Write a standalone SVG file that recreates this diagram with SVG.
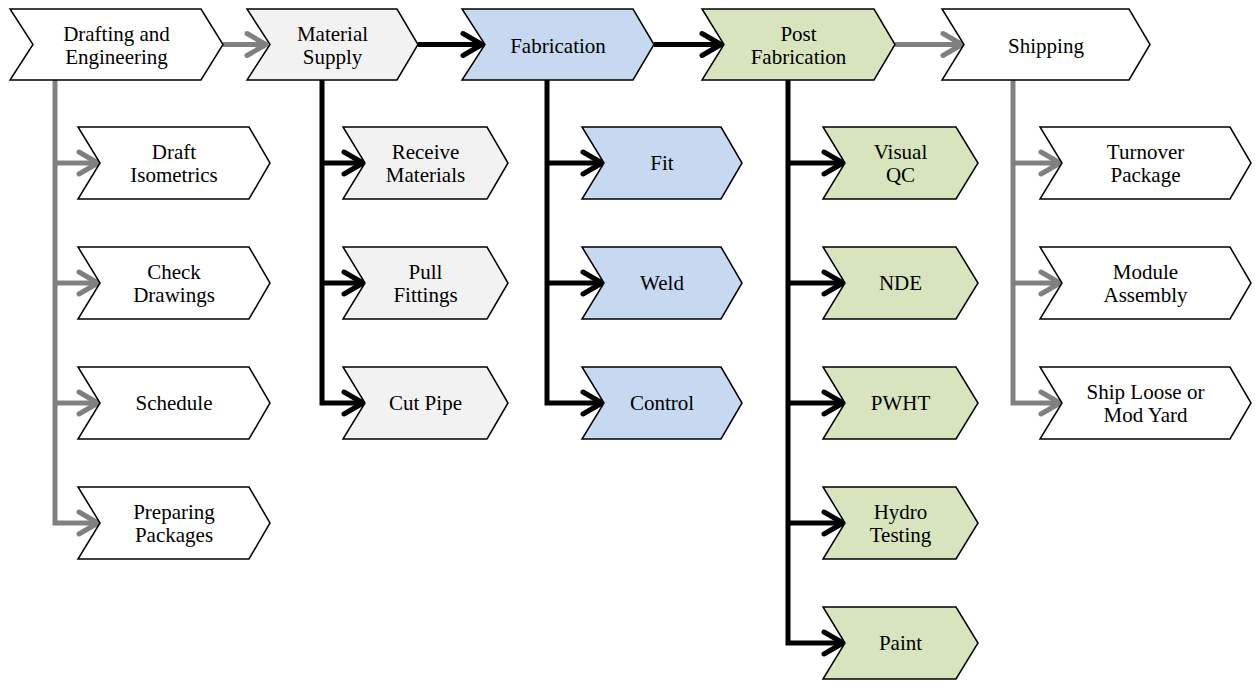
<svg xmlns="http://www.w3.org/2000/svg" width="1255" height="681" viewBox="0 0 1255 681">
<style>
.box{stroke:#000;stroke-width:1.5;stroke-linejoin:miter}
.w{fill:#fff}.g{fill:#f2f2f2}.b{fill:#c6d9f1}.gr{fill:#d7e4bd}
.t{font-size:21px;fill:#000;text-anchor:middle}
.cg{fill:none;stroke:#808080;stroke-width:5;stroke-linejoin:miter;marker-end:url(#ag)}
.ck{fill:none;stroke:#000;stroke-width:5;stroke-linejoin:miter;marker-end:url(#ak)}
</style>
<defs>
<marker id="ag" markerUnits="userSpaceOnUse" markerWidth="32" markerHeight="32" refX="24" refY="16" orient="auto" overflow="visible">
<path d="M5,5 L24,16 L5,27" fill="none" stroke="#808080" stroke-width="5" stroke-linecap="round" stroke-linejoin="round"/>
</marker>
<marker id="ak" markerUnits="userSpaceOnUse" markerWidth="32" markerHeight="32" refX="24" refY="16" orient="auto" overflow="visible">
<path d="M5,5 L24,16 L5,27" fill="none" stroke="#000" stroke-width="5" stroke-linecap="round" stroke-linejoin="round"/>
</marker>
</defs>
<g id="connectors">
<path class="cg" d="M223,44.5 H266"/>
<path class="ck" d="M418,44.5 H482"/>
<path class="ck" d="M654,44.5 H721"/>
<path class="cg" d="M895,44.5 H962"/>
<path class="cg" d="M55,80 V523 H98"/>
<path class="cg" d="M55,163 H98"/>
<path class="cg" d="M55,283 H98"/>
<path class="cg" d="M55,403 H98"/>
<path class="ck" d="M322,80 V403 H363"/>
<path class="ck" d="M322,163 H363"/>
<path class="ck" d="M322,283 H363"/>
<path class="ck" d="M547,80 V403 H602"/>
<path class="ck" d="M547,163 H602"/>
<path class="ck" d="M547,283 H602"/>
<path class="ck" d="M788,80 V643 H843"/>
<path class="ck" d="M788,163 H843"/>
<path class="ck" d="M788,283 H843"/>
<path class="ck" d="M788,403 H843"/>
<path class="ck" d="M788,523 H843"/>
<path class="cg" d="M1013,80 V403 H1060"/>
<path class="cg" d="M1013,163 H1060"/>
<path class="cg" d="M1013,283 H1060"/>
</g>
<g id="nodes" font-family="Liberation Serif, DejaVu Serif, serif">
<g id="drafting"><polygon class="box w" points="10,9 201,9 223,44.5 201,80 10,80 33,44.5"/><text class="t" x="116.5" y="41">Drafting and</text><text class="t" x="116.5" y="64">Engineering</text></g>
<g id="material"><polygon class="box g" points="247,9 397,9 418,44.5 397,80 247,80 270,44.5"/><text class="t" x="332.5" y="41">Material</text><text class="t" x="332.5" y="64">Supply</text></g>
<g id="fabrication"><polygon class="box b" points="462,9 633,9 654,44.5 633,80 462,80 485,44.5"/><text class="t" x="558" y="52.5">Fabrication</text></g>
<g id="postfab"><polygon class="box gr" points="702,9 874,9 895,44.5 874,80 702,80 724,44.5"/><text class="t" x="798.5" y="41">Post</text><text class="t" x="798.5" y="64">Fabrication</text></g>
<g id="shipping"><polygon class="box w" points="942,9 1129,9 1150,44.5 1129,80 942,80 964,44.5"/><text class="t" x="1046" y="52.5">Shipping</text></g>

<g id="draft-iso"><polygon class="box w" points="78,127 249,127 270,163 249,199 78,199 100,163"/><text class="t" x="174" y="158.5">Draft</text><text class="t" x="174" y="181.5">Isometrics</text></g>
<g id="check-drawings"><polygon class="box w" points="78,247 249,247 270,283 249,319 78,319 100,283"/><text class="t" x="174" y="278.5">Check</text><text class="t" x="174" y="301.5">Drawings</text></g>
<g id="schedule"><polygon class="box w" points="78,367 249,367 270,403 249,439 78,439 100,403"/><text class="t" x="174" y="410">Schedule</text></g>
<g id="preparing"><polygon class="box w" points="78,487 249,487 270,523 249,559 78,559 100,523"/><text class="t" x="174" y="518.5">Preparing</text><text class="t" x="174" y="541.5">Packages</text></g>

<g id="receive"><polygon class="box g" points="343,127 487,127 508,163 487,199 343,199 365,163"/><text class="t" x="425.5" y="158.5">Receive</text><text class="t" x="425.5" y="181.5">Materials</text></g>
<g id="pull"><polygon class="box g" points="343,247 487,247 508,283 487,319 343,319 365,283"/><text class="t" x="425.5" y="278.5">Pull</text><text class="t" x="425.5" y="301.5">Fittings</text></g>
<g id="cut"><polygon class="box g" points="343,367 487,367 508,403 487,439 343,439 365,403"/><text class="t" x="425.5" y="410">Cut Pipe</text></g>

<g id="fit"><polygon class="box b" points="582,127 721,127 742,163 721,199 582,199 604,163"/><text class="t" x="662" y="170">Fit</text></g>
<g id="weld"><polygon class="box b" points="582,247 721,247 742,283 721,319 582,319 604,283"/><text class="t" x="662" y="290">Weld</text></g>
<g id="control"><polygon class="box b" points="582,367 721,367 742,403 721,439 582,439 604,403"/><text class="t" x="662" y="410">Control</text></g>

<g id="visual"><polygon class="box gr" points="823,127 956,127 978,163 956,199 823,199 845,163"/><text class="t" x="900.5" y="158.5">Visual</text><text class="t" x="900.5" y="181.5">QC</text></g>
<g id="nde"><polygon class="box gr" points="823,247 956,247 978,283 956,319 823,319 845,283"/><text class="t" x="900.5" y="290">NDE</text></g>
<g id="pwht"><polygon class="box gr" points="823,367 956,367 978,403 956,439 823,439 845,403"/><text class="t" x="900.5" y="410">PWHT</text></g>
<g id="hydro"><polygon class="box gr" points="823,487 956,487 978,523 956,559 823,559 845,523"/><text class="t" x="900.5" y="518.5">Hydro</text><text class="t" x="900.5" y="541.5">Testing</text></g>
<g id="paint"><polygon class="box gr" points="823,607 956,607 978,643 956,679 823,679 845,643"/><text class="t" x="900.5" y="650">Paint</text></g>

<g id="turnover"><polygon class="box w" points="1040,127 1230,127 1251,163 1230,199 1040,199 1062,163"/><text class="t" x="1145.5" y="158.5">Turnover</text><text class="t" x="1145.5" y="181.5">Package</text></g>
<g id="module"><polygon class="box w" points="1040,247 1230,247 1251,283 1230,319 1040,319 1062,283"/><text class="t" x="1145.5" y="278.5">Module</text><text class="t" x="1145.5" y="301.5">Assembly</text></g>
<g id="shiploose"><polygon class="box w" points="1040,367 1230,367 1251,403 1230,439 1040,439 1062,403"/><text class="t" x="1145.5" y="398.5">Ship Loose or</text><text class="t" x="1145.5" y="421.5">Mod Yard</text></g>
</g>
</svg>
